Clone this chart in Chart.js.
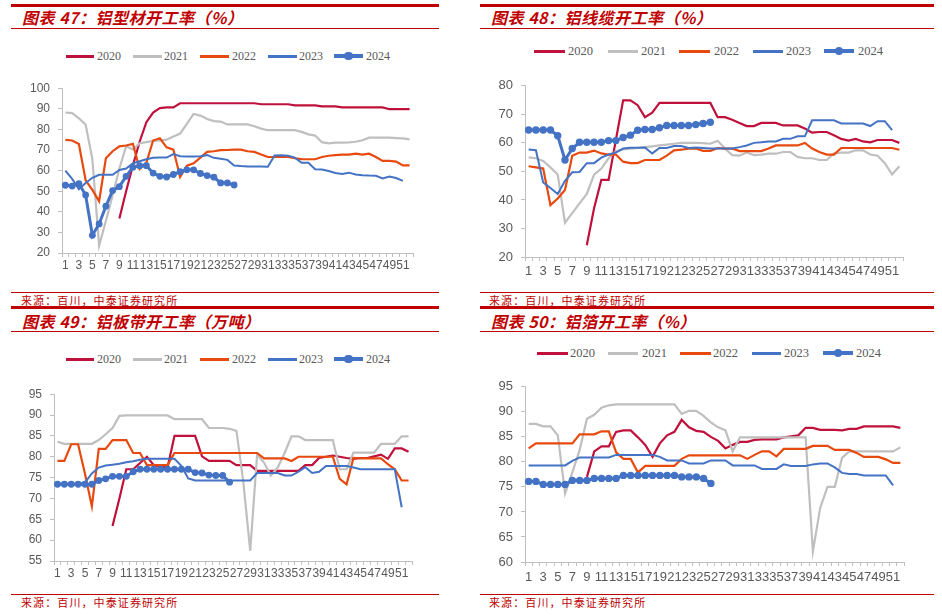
<!DOCTYPE html>
<html><head><meta charset="utf-8">
<script src="https://cdn.jsdelivr.net/npm/chart.js@4.4.0/dist/chart.umd.min.js"></script>
<style>
html,body{margin:0;padding:0;background:#fff;width:942px;height:616px;overflow:hidden;position:relative;}
.bar{position:absolute;background:#C00000;}
.title{position:absolute;font-family:"Noto Sans CJK SC";font-weight:bold;font-style:italic;color:#C00000;font-size:16px;line-height:20px;white-space:nowrap;letter-spacing:0.5px;}
.src{position:absolute;font-family:"Noto Sans CJK SC";color:#C00000;font-size:11px;line-height:14px;letter-spacing:1.1px;white-space:nowrap;}
.lgt{position:absolute;font-family:"Liberation Serif";color:#595959;white-space:nowrap;}
.lgl{position:absolute;}
.lgd{position:absolute;border-radius:50%;}
canvas{position:absolute;}
</style></head><body>
<script>
// ---------- DATA ----------
const weeks = [1,2,3,4,5,6,7,8,9,10,11,12,13,14,15,16,17,18,19,20,21,22,23,24,25,26,27,28,29,30,31,32,33,34,35,36,37,38,39,40,41,42,43,44,45,46,47,48,49,50,51,52];
const yearNames = ['2020','2021','2022','2023','2024'];

// 图表47 铝型材开工率
const profile2020 = [null,null,null,null,null,null,null,null,36.8,50,62.5,74,83.5,88.2,90.3,90.7,90.7,92.7,92.7,92.7,92.7,92.7,92.7,92.7,92.7,92.7,92.7,92.7,92.7,92.2,92.2,92.2,92.2,92.2,91.7,91.7,91.7,91.7,91.2,91.2,91.2,90.7,90.7,90.7,90.7,90.7,90.7,90.7,89.8,89.8,89.8,89.8];
const profile2021 = [88.2,87.9,85.4,82.3,65.5,23.6,35.5,48,61,71.8,70.2,73.3,73.8,74.4,74.7,75,76.5,78,82.7,87.5,86.7,85,84,83.8,82.4,82.4,82.4,82.4,81.5,80.4,79.6,79.6,79.6,79.6,79.6,78.8,77.6,77,73.8,73.2,73.6,73.6,73.7,74,74.7,76,76,76,76,75.8,75.6,75.2];
const profile2022 = [74.9,74.6,72.9,55.3,50.6,45.1,66,69.4,71.8,72.2,73,60.8,63.9,74.6,75.7,71.3,70.2,56.9,62.4,63.5,66.3,69.1,69.4,69.9,70,70.2,70.2,69.4,69.1,67.8,66.6,66.6,66.6,66.6,66,65.6,65.5,65.5,66.6,67.2,67.5,67.8,67.8,68.2,67.8,68.2,66.6,64.7,64.7,64.4,62.5,62.5];
const profile2023 = [60,56,51,54,56.5,58,58,58,60.3,61,63.5,64.5,65.5,66.2,66.3,66.3,68,67,66.8,66.8,67,67.5,66.2,65.8,65.2,62.5,62.2,62,62,62,61.9,67.3,67.5,67.2,66.3,63.8,63.8,60.7,60.5,59.8,58.8,58.4,59,58.1,57.8,57.6,57.5,56.2,57.1,56.4,55,null];
const profile2024 = [52.9,52.5,53.7,48.2,28.6,34.1,42.7,50.3,52.2,57.2,61.6,62.4,62.4,58.8,57.2,56.9,58.1,59.5,60.4,60.4,58.6,57.6,56.8,54,54,53];

// 图表48 铝线缆开工率
const cable2020 = [null,null,null,null,null,null,null,null,24.1,37.1,47,47,61,74.9,74.9,73.2,69,70.6,74,74,74,74,74,74,74,74,69,69,68.1,67,65.9,65.9,67,67,67,66.1,66.1,66.1,65,63.6,63.8,63.8,62.7,61.4,60.8,61.4,60.5,60.2,61,61,61,60];
const cable2021 = [54.9,54.6,53.7,51.4,48.9,32,35.4,38.8,42.1,48.9,51,54.6,57.1,57.7,58,58.2,58.5,58.8,59.1,59.4,59.7,60,60,60,59.9,59.7,60.7,58,55.7,55.5,56.6,55.7,55.9,56.2,56.2,56.8,56.8,55.1,54.6,54.6,54,54,56.3,56.6,56.6,57.4,57.4,55.9,55.5,52.9,48.9,51.8];
const cable2022 = [51.8,51.4,51,38.2,40.5,43.5,55.5,56.6,56.6,57.3,56.3,55.9,55.9,53.4,52.9,52.9,54,54,54,55.5,57.4,57.6,58,58,57.2,57.2,58.2,58,58,57.1,57.1,57.1,57.1,58,59.1,59.1,59.1,59.1,60,58,56.8,55.9,55.9,58.2,58.2,58.2,58.2,58.2,58.2,58.2,58.2,57.6];
const cable2023 = [57.7,57.4,46.1,44.2,42.1,46.7,49.7,49.8,52.9,52.9,54.8,55.9,56.6,58,58.3,58.3,58.4,56.3,58.2,58.2,58.9,58.9,58.2,58.4,58.2,58,58,58,58,58.5,59.1,60,60.2,60.5,60.5,61.4,61.4,62.3,62.3,67.9,67.9,67.9,67.9,66.8,66.8,66.8,66.8,65.9,67.6,67.6,64.5,null];
const cable2024 = [64.5,64.5,64.5,64.5,62.5,54,58,60.2,60.2,60.2,60.2,60.8,60.8,61.9,62.7,64.4,64.7,64.7,65.3,66.1,66.1,66.1,66.1,66.4,66.8,67.2];

// 图表49 铝板带开工率
const sheet2020 = [null,null,null,null,null,null,null,null,63.4,70,77,77,78.5,80,78,77.5,77.5,85,85,85,85,80.1,79,79,79,79,78,78,78,76.6,76.6,76.6,76.6,76.6,76.6,76.6,78,78,79.7,80,80.3,80,79.7,79.5,79.7,79.7,80.1,80.5,79.5,82,82,81.2];
const sheet2021 = [83.6,83.1,83.1,83.1,83.1,83.1,84,85.4,86.9,89.8,89.9,89.9,89.9,89.9,89.9,89.9,89.9,89,89,89,89,89,86.9,86.9,86.9,86.7,86.2,74,57.4,80.5,78.6,75.5,77.4,80.9,84.9,84.9,84,84,84,84,84,77,77,81,81,81,81,83.1,83.1,83.1,84.9,84.9];
const sheet2022 = [79,79,83,83,75.9,68.1,81.9,81.9,84,84,84,80.9,80.9,78,78,78,78,80.9,80.9,80.9,80.9,80.9,80.9,80.9,80.9,80.9,80.9,80.9,80.9,80.9,79.6,79.6,79.6,79.6,79,80,80,80,80,80,80,74.7,73.4,79.7,79.6,79.6,79.6,79.6,78.2,77,74.3,74.3];
const sheet2023 = [73.5,73.5,73.5,73.5,73.8,76,77.4,77.9,78.1,78.3,78.7,78.9,79.3,79.5,79.5,79.5,79.5,79.5,77.8,74.8,74.3,74.3,74.3,74.3,74.3,74.3,74.3,74.3,74.3,76.1,76.1,76.1,76.1,75.5,75.5,76.4,77.5,76.1,76.4,77.8,77.8,77.8,77.8,77.4,77,77,77,77,77,77,67.9,null];
const sheet2024 = [73.4,73.4,73.4,73.4,73.4,73.4,74.3,74.7,75.3,75.3,75.3,76.4,77,77,77,77,77,77,77,77,76.2,76.1,75.6,75.5,75.5,73.9];

// 图表50 铝箔开工率
const foil2020 = [null,null,null,null,null,null,null,null,77,82.1,83.1,83.1,86,86.3,86.3,84.9,83.4,81,83.7,85.3,86,88.4,86.9,86.2,86,85,84.2,82.7,83.4,84,84,84.4,84.5,84.5,84.5,84.9,85.1,85.3,86.8,86.8,86.4,86.4,86.4,86.3,86.6,86.6,87.1,87.1,87.1,87.1,87.1,86.8];
const foil2021 = [87.6,87.6,87.1,87.1,85.3,73.7,77.9,82.4,88.6,89.4,90.8,91.3,91.5,91.5,91.5,91.5,91.5,91.5,91.5,91.5,91.5,89.6,90.2,90.2,89.2,87.9,86.9,86.3,82.1,84.9,84.9,84.9,84.9,84.9,84.9,84.9,84.9,84.9,84.9,62.1,70.8,75,75,80.8,82.1,82.1,82.1,82.1,82.1,82.1,82.1,82.9];
const foil2022 = [82.7,83.7,83.7,83.7,83.7,83.7,83.7,85.5,85.5,85.5,86.1,86.1,81.9,80.6,80.6,77.9,79.2,79.2,79.2,79.2,79.2,80.6,81.3,81.3,81.3,81.3,81.3,81.3,81.3,81.3,80.6,81.4,82.1,82.1,81.1,82.6,82.6,82.6,82.6,83.2,83.2,83.2,82.4,82.4,82.4,81.8,81,81,81,80.5,79.8,79.8];
const foil2023 = [79.3,79.3,79.3,79.3,79.3,79.3,80.2,80.9,80.9,80.9,80.9,80.9,81.4,81.4,81.4,81.4,81.4,81.4,81,80.3,80.3,80.3,79.7,79.7,79.7,80.3,80.3,80.3,79.3,79.3,79.3,79.3,78.6,78.6,78.6,79.5,79.2,79.2,79.2,79.5,79.7,79.7,78.9,77.8,77.6,77.6,77.3,77.3,77.3,77.3,75.3,null];
const foil2024 = [76.1,76.1,75.5,75.5,75.5,75.5,76.3,76.3,76.3,76.7,76.7,76.7,76.7,77.3,77.3,77.3,77.3,77.3,77.3,77.3,77.3,77,77,77,76.7,75.7];

const titles = ['图表 47：铝型材开工率（%）','图表 48：铝线缆开工率（%）','图表 49：铝板带开工率（万吨）','图表 50：铝箔开工率（%）'];
const sourceText = '来源：百川，中泰证券研究所';
const yTicks47 = [20,100,10], yTicks48 = [20,80,10], yTicks49 = [55,95,5], yTicks50 = [60,95,5];

// ---------- STYLE / LAYOUT ----------
const colors = ['#C0103C','#BFBFBF','#E8490F','#4472C4','#4472C4'];
const panels = [
  {series:[profile2020,profile2021,profile2022,profile2023,profile2024], yr:yTicks47,
   box:{l:0,t:73,w:430,h:205}, W:62, pt:10, pr:17, xh:25, fs:12, xpad:1.8, ypad:8, dot:3.4,
   legY:56, legLines:[[66,94],[133,162],[200,229],[268,297],[334,363]], legText:[97,164,232,299,366], legFs:12},
  {series:[cable2020,cable2021,cable2022,cable2023,cable2024], yr:yTicks48,
   box:{l:471,t:70,w:471,h:215}, W:54, pt:10, pr:39, xh:28, fs:13, xpad:2.2, ypad:8, dot:3.7,
   legY:51, legLines:[[534,565],[608,638],[679,710],[753,783],[824,854]], legText:[568,641,714,786,858], legFs:12.5},
  {series:[sheet2020,sheet2021,sheet2022,sheet2023,sheet2024], yr:yTicks49,
   box:{l:0,t:379,w:430,h:210}, W:54, pt:10, pr:18, xh:28, fs:12, xpad:1.8, ypad:8, dot:3.4,
   legY:359, legLines:[[66,94],[133,162],[200,229],[268,297],[334,363]], legText:[97,164,232,299,366], legFs:12},
  {series:[foil2020,foil2021,foil2022,foil2023,foil2024], yr:yTicks50,
   box:{l:471,t:371,w:471,h:220}, W:54, pt:10, pr:38, xh:29, fs:13, xpad:3.2, ypad:8, dot:3.7,
   legY:353, legLines:[[537,568],[608,638],[680,711],[752,781],[823,853]], legText:[570,642,713,784,856], legFs:12.5}
];

function el(cls, css, text){
  const d=document.createElement('div'); d.className=cls;
  Object.assign(d.style, css); if(text!==undefined) d.textContent=text;
  document.body.appendChild(d); return d;
}
// frame bars
[[11,428],[480,454]].forEach(([x,w])=>{
  el('bar',{left:x+'px',top:'4px',width:w+'px',height:'3px'});
  el('bar',{left:x+'px',top:'28px',width:w+'px',height:'1px'});
  el('bar',{left:x+'px',top:'292px',width:w+'px',height:'1px'});
  el('bar',{left:x+'px',top:'306px',width:w+'px',height:'3px'});
  el('bar',{left:x+'px',top:'331px',width:w+'px',height:'1px'});
  el('bar',{left:x+'px',top:'594px',width:w+'px',height:'1px'});
});
el('title',{left:'22px',top:'7px'},titles[0]);
el('title',{left:'491px',top:'7px'},titles[1]);
el('title',{left:'22px',top:'311px'},titles[2]);
el('title',{left:'491px',top:'311px'},titles[3]);
el('src',{left:'21px',top:'293px'},sourceText);
el('src',{left:'489px',top:'293px'},sourceText);
el('src',{left:'21px',top:'595px'},sourceText);
el('src',{left:'489px',top:'595px'},sourceText);

Chart.defaults.font.family = '"Liberation Sans", Arial, sans-serif';

panels.forEach((p,pi)=>{
  // legend
  p.legLines.forEach(([x1,x2],k)=>{
    const lw = k===4?4:3;
    el('lgl',{left:x1+'px',top:(p.legY-lw/2)+'px',width:(x2-x1)+'px',height:lw+'px',background:colors[k]});
    if(k===4){
      const r=4.2, cx=(x1+x2)/2;
      el('lgd',{left:(cx-r)+'px',top:(p.legY-r)+'px',width:2*r+'px',height:2*r+'px',background:colors[k]});
    }
    el('lgt',{left:p.legText[k]+'px',top:(p.legY-0.6*p.legFs)+'px',fontSize:p.legFs+'px',lineHeight:(1.2*p.legFs)+'px'},yearNames[k]);
  });
  // chart
  const c=document.createElement('canvas');
  c.width=p.box.w; c.height=p.box.h;
  c.style.left=p.box.l+'px'; c.style.top=p.box.t+'px';
  c.style.width=p.box.w+'px'; c.style.height=p.box.h+'px';
  document.body.appendChild(c);
  const datasets = p.series.map((s,k)=>({
    label:yearNames[k], data:s, borderColor:colors[k], backgroundColor:colors[k],
    borderWidth: k===4?3:(k===3?2:2.2), tension:0, spanGaps:false,
    pointRadius: k===4?p.dot:0, pointHoverRadius:0, pointBorderWidth:0,
    pointBackgroundColor:colors[k], order:5-k
  }));
  new Chart(c,{
    type:'line',
    data:{labels:weeks.map(String), datasets},
    options:{
      responsive:false, animation:false, devicePixelRatio:1,
      layout:{padding:{left:0,top:p.pt,right:p.pr,bottom:0}},
      plugins:{legend:{display:false}, tooltip:{enabled:false}},
      scales:{
        x:{type:'category', offset:true,
           grid:{offset:true, drawOnChartArea:false, drawTicks:true, tickLength:4, color:'#BFBFBF', lineWidth:1},
           border:{display:true,color:'#BFBFBF',width:1},
           ticks:{autoSkip:false,maxRotation:0,minRotation:0,padding:p.xpad,color:'#595959',
                  font:{size:p.fs}, callback:(v,i)=> i%2===0 ? String(weeks[i]) : ''},
           afterFit:(s)=>{s.height=p.xh;}},
        y:{min:p.yr[0], max:p.yr[1],
           grid:{drawOnChartArea:false, drawTicks:true, tickLength:4, color:'#BFBFBF', lineWidth:1},
           border:{display:true,color:'#BFBFBF',width:1},
           ticks:{stepSize:p.yr[2], padding:p.ypad, color:'#595959', font:{size:p.fs}},
           afterFit:(s)=>{s.width=p.W;}}
      }
    }
  });
});
</script>
</body></html>
